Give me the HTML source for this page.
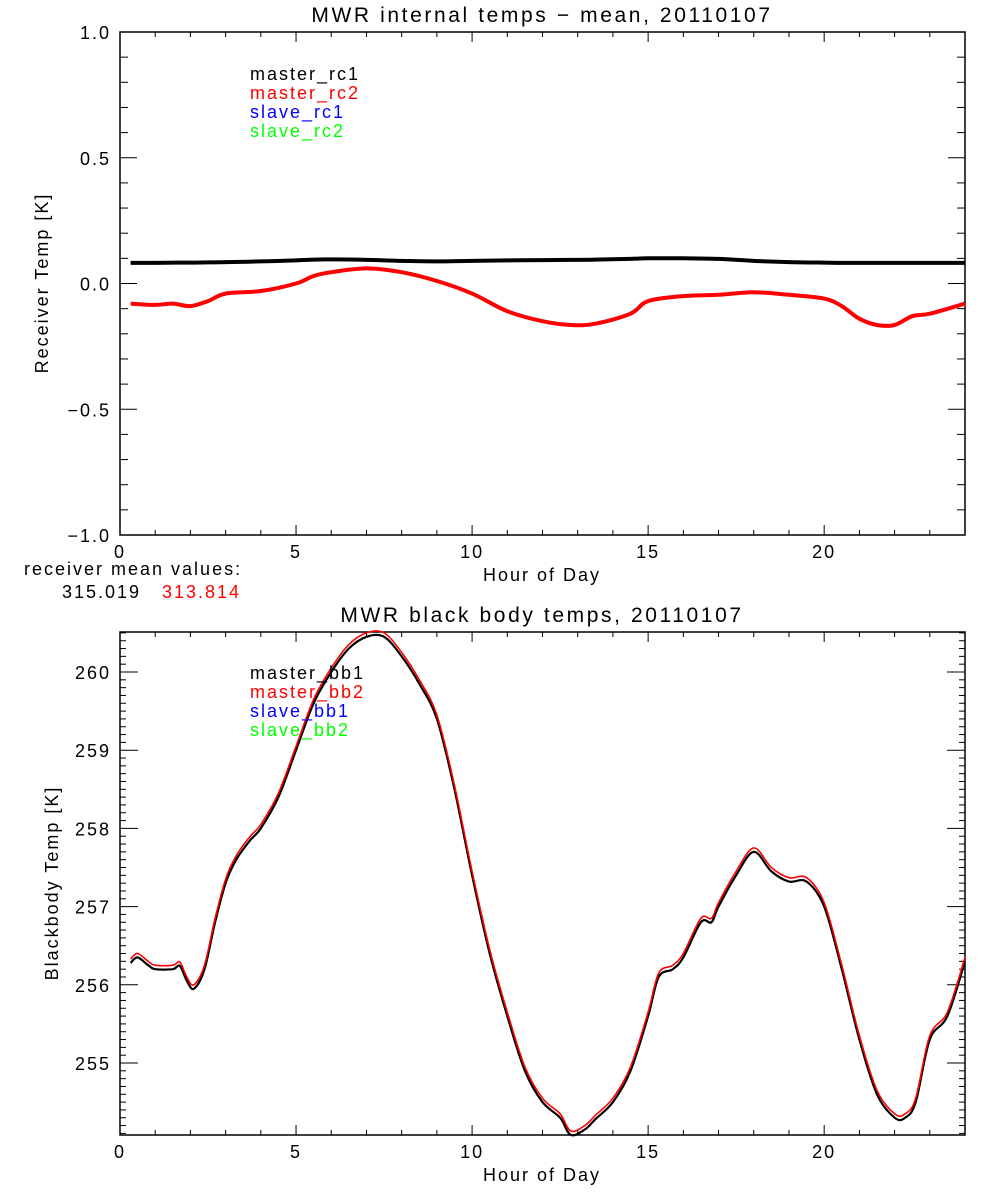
<!DOCTYPE html>
<html><head><meta charset="utf-8"><style>
html,body{margin:0;padding:0;background:#fff;}
svg{display:block;font-family:"Liberation Sans",sans-serif;}
text{font-size:18px;letter-spacing:2px;}
</style></head><body>
<svg id="chart" width="1000" height="1200" viewBox="0 0 1000 1200" xmlns="http://www.w3.org/2000/svg"></svg>
<script>
// ---- data ----
const rcHours = [0.3,1,1.5,2,2.5,3,4,5,5.5,6,7,8,9,10,11,12,12.8,13.5,14.5,15,16,17,18,19,20,20.5,21,21.5,22,22.5,23,24];
const masterRc1 = [0.082,0.082,0.083,0.083,0.084,0.085,0.088,0.092,0.095,0.096,0.094,0.09,0.088,0.09,0.092,0.093,0.094,0.095,0.098,0.1,0.1,0.098,0.09,0.085,0.083,0.082,0.082,0.082,0.082,0.082,0.082,0.082];
const masterRc2 = [-0.08,-0.085,-0.08,-0.09,-0.07,-0.04,-0.03,0.0,0.03,0.045,0.06,0.045,0.01,-0.04,-0.11,-0.15,-0.165,-0.16,-0.12,-0.07,-0.05,-0.045,-0.035,-0.045,-0.06,-0.09,-0.14,-0.165,-0.165,-0.13,-0.12,-0.08];
const bbHours = [0.3,0.5,0.8,1.0,1.5,1.7,1.9,2.1,2.4,2.7,3.0,3.3,3.7,4.0,4.5,5.0,5.5,6.0,6.5,7.0,7.5,8.0,8.5,9.0,9.5,10.0,10.5,11.0,11.5,12.0,12.5,12.8,13.2,13.5,14.0,14.5,15.0,15.3,15.7,16.0,16.5,16.8,17.0,17.5,18.0,18.5,19.0,19.5,20.0,20.5,21.0,21.5,22.0,22.3,22.6,23.0,23.5,24.0];
const masterBb1 = [256.28,256.35,256.25,256.2,256.2,256.24,256.05,255.95,256.2,256.8,257.3,257.6,257.85,258.0,258.4,259.0,259.6,260.0,260.3,260.45,260.45,260.2,259.85,259.4,258.5,257.4,256.4,255.6,254.9,254.5,254.3,254.08,254.15,254.28,254.5,254.9,255.6,256.1,256.2,256.35,256.8,256.8,257.0,257.4,257.7,257.45,257.32,257.32,257.0,256.2,255.3,254.6,254.3,254.3,254.5,255.3,255.6,256.3];
const masterBb2 = masterBb1.map(v => v + 0.05);
const xTicks = [0,5,10,15,20];
const rcTicks = [-1.0,-0.5,0.0,0.5,1.0];
const bbTicks = [255,256,257,258,259,260];

const NS = "http://www.w3.org/2000/svg";
const svg = document.getElementById('chart');
function el(tag, attrs, parent){ const e=document.createElementNS(NS,tag); for(const k in attrs) e.setAttribute(k,attrs[k]); (parent||svg).appendChild(e); return e; }
function txt(x,y,s,anchor,fill,parent){ const t=el('text',{x:x,y:y,'text-anchor':anchor||'start',fill:fill||'#000'},parent); t.textContent=s; return t; }

const X0=120, X1=965;
function xs(h){ return X0 + h/24*(X1-X0); }

function panel(name, top, bot, ymin, ymax, yTicks, yMinorStep, yFmt, xMajorLen, xMinorLen, yMajorLen, yMinorLen){
  const g = el('g',{});
  
  
  const ys = v => bot - (v-ymin)/(ymax-ymin)*(bot-top);
  el('rect',{x:X0,y:top,width:X1-X0,height:bot-top,fill:'none',stroke:'#000','stroke-width':1.5},g);
  for(let h=0; h<=24; h++){
    const L = (h%5===0)? xMajorLen : xMinorLen;
    const x = xs(h);
    el('line',{x1:x,y1:bot,x2:x,y2:bot-L,stroke:'#000'},g);
    el('line',{x1:x,y1:top,x2:x,y2:top+L,stroke:'#000'},g);
  }
  xTicks.forEach(h=>{ const t=txt(xs(h),bot+23,String(h),'middle','#000',g);   });
  const start = Math.ceil(ymin/yMinorStep - 1e-6);
  for(let i=start; i*yMinorStep<=ymax+1e-9; i++){
    const v=i*yMinorStep; const y=ys(v);
    const major = yTicks.some(t=>Math.abs(t-v)<1e-6);
    const L = major? yMajorLen : yMinorLen;
    el('line',{x1:X0,y1:y,x2:X0+L,y2:y,stroke:'#000'},g);
    el('line',{x1:X1,y1:y,x2:X1-L,y2:y,stroke:'#000'},g);
  }
  yTicks.forEach(v=>{ const t=txt(111,ys(v)+7,yFmt(v),'end','#000',g);   });
  return ys;
}
function series(name, hours, vals, ys, color, w){
  const P = hours.map((h,i)=>[xs(h), ys(vals[i])]);
  let d = 'M'+P[0][0].toFixed(1)+','+P[0][1].toFixed(1);
  for(let i=0;i<P.length-1;i++){
    const p0=P[Math.max(i-1,0)], p1=P[i], p2=P[i+1], p3=P[Math.min(i+2,P.length-1)];
    const c1=[p1[0]+(p2[0]-p0[0])/6, p1[1]+(p2[1]-p0[1])/6];
    const c2=[p2[0]-(p3[0]-p1[0])/6, p2[1]-(p3[1]-p1[1])/6];
    d += ' C'+c1[0].toFixed(1)+','+c1[1].toFixed(1)+' '+c2[0].toFixed(1)+','+c2[1].toFixed(1)+' '+p2[0].toFixed(1)+','+p2[1].toFixed(1);
  }
  const p = el('path',{d:d,fill:'none',stroke:color,'stroke-width':w,'stroke-linejoin':'round'});
  
  
}

const ys1 = panel('receiver-temp-plot', 32, 535, -1, 1, rcTicks, 0.1, v=>v.toFixed(1).replace('-','\u2212'), 10, 5, 17, 8);
series('master-rc1-line', rcHours, masterRc1, ys1, '#000', 4);
series('master-rc2-line', rcHours, masterRc2, ys1, '#f00', 4);
let t;
t=txt(542,22,'MWR internal temps \u2212 mean, 20110107','middle'); t.style.fontSize='21px'; t.style.letterSpacing='2.6px';
 
[['master_rc1','#000'],['master_rc2','#f00'],['slave_rc1','#00f'],['slave_rc2','#0f0']].forEach((a,i)=>{
  const e=txt(250,80+i*19,a[0],'start',a[1]);  
});
t=txt(0,0,'Receiver Temp [K]','middle'); t.setAttribute('transform','translate(48,283) rotate(-90)');
 
t=txt(542,581,'Hour of Day','middle');  
t=txt(24,575,'receiver mean values:');  
t=txt(62,598,'315.019');  
t=txt(162,598,'313.814','start','#f00');  

const bbMin = 255 - (1135-1063)/78.2, bbMax = 260 + (672-632)/78.2;
const ys2 = panel('blackbody-temp-plot', 632, 1135, bbMin, bbMax, bbTicks, 0.1, v=>String(v), 10, 5, 18, 6);
series('master-bb1-line', bbHours, masterBb1, ys2, '#000', 2.2);
series('master-bb2-line', bbHours, masterBb2, ys2, '#f00', 1.6);
t=txt(542,622,'MWR black body temps, 20110107','middle'); t.style.fontSize='21px'; t.style.letterSpacing='2.6px';
 
[['master_bb1','#000'],['master_bb2','#f00'],['slave_bb1','#00f'],['slave_bb2','#0f0']].forEach((a,i)=>{
  const e=txt(250,679+i*19,a[0],'start',a[1]);  
});
t=txt(0,0,'Blackbody Temp [K]','middle'); t.setAttribute('transform','translate(58,883) rotate(-90)');
 
t=txt(542,1181,'Hour of Day','middle');  
</script>
</body></html>
